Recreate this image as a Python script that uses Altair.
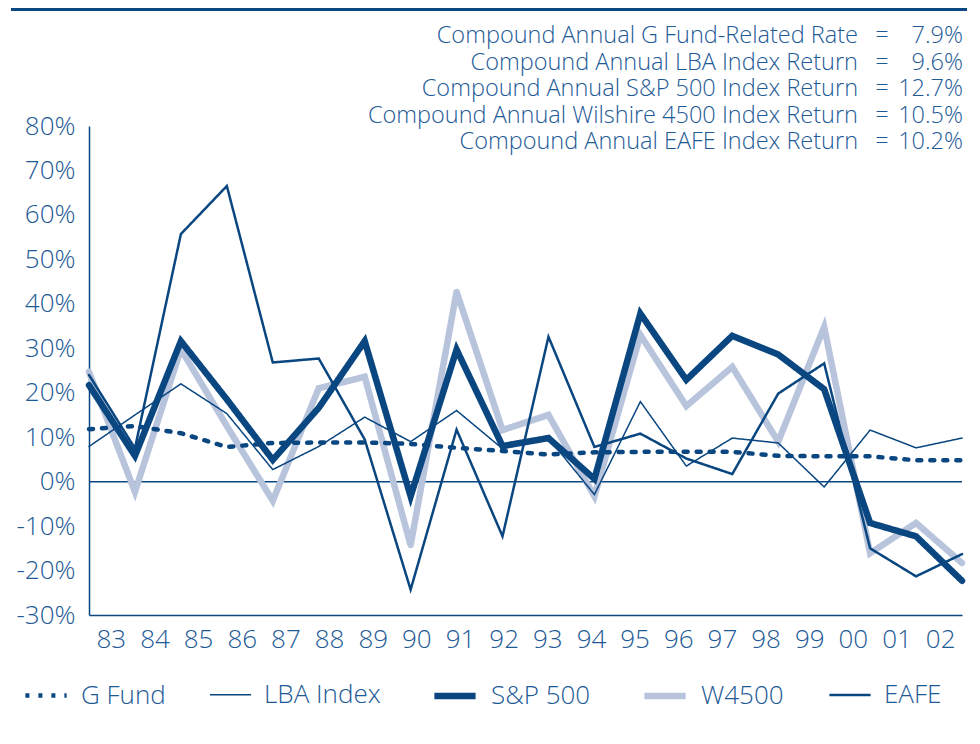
import altair as alt
import pandas as pd

YEARS = ["83", "84", "85", "86", "87", "88", "89", "90", "91", "92",
         "93", "94", "95", "96", "97", "98", "99", "00", "01", "02"]

G_FUND = [11.8, 12.5, 10.9, 7.8, 8.7, 8.8, 8.8, 8.5, 7.6, 6.9,
          6.1, 6.6, 6.7, 6.7, 6.7, 5.8, 5.7, 5.7, 4.8, 4.8]
LBA = [7.9, 15.0, 22.0, 15.3, 2.7, 7.9, 14.5, 9.0, 16.0, 7.4,
       9.8, -2.9, 18.0, 3.5, 9.8, 8.7, -1.2, 11.6, 7.6, 9.8]
SP500 = [21.7, 5.8, 31.6, 18.5, 4.9, 16.6, 31.6, -3.3, 29.7, 8.0,
         9.8, 0.6, 37.8, 22.9, 32.8, 28.6, 20.8, -9.3, -12.3, -22.3]
W4500 = [24.7, -2.3, 29.8, 12.5, -4.3, 21.0, 23.6, -14.3, 42.7, 11.6,
         15.0, -3.3, 33.0, 17.0, 25.8, 9.0, 34.8, -16.1, -9.3, -18.3]
EAFE = [24.0, 7.5, 55.7, 66.5, 26.8, 27.7, 9.5, -24.3, 11.7, -12.3,
        32.6, 7.8, 10.8, 5.2, 1.7, 19.8, 26.6, -15.0, -21.3, -16.3]

SERIES = ["G Fund", "LBA Index", "S&P 500", "W4500", "EAFE"]
DRAW_ORDER = ["W4500", "EAFE", "LBA Index", "G Fund", "S&P 500"]

ANN_DESC = [
    "Compound Annual G Fund-Related Rate",
    "Compound Annual LBA Index Return",
    "Compound Annual S&P 500 Index Return",
    "Compound Annual Wilshire 4500 Index Return",
    "Compound Annual EAFE Index Return",
]
ANN_VALS = ["7.9%", "9.6%", "12.7%", "10.5%", "10.2%"]

NAVY = "#0a4680"
TEXT = "#1d5a96"
LIGHT = "#b8c3dc"
FONT = "Open Sans"

values = {"G Fund": G_FUND, "LBA Index": LBA, "S&P 500": SP500,
          "W4500": W4500, "EAFE": EAFE}
rows = []
for s in SERIES:
    for i, v in enumerate(values[s]):
        rows.append({"series": s, "idx": i, "year": YEARS[i], "value": v})
df = pd.DataFrame(rows)

W, H = 873, 489

yscale = alt.Scale(domain=[-30, 80], nice=False, zero=False)

lines = alt.Chart(df).mark_line(strokeCap="round", strokeJoin="miter").encode(
    x=alt.X("idx:Q", scale=alt.Scale(domain=[0, 19], nice=False, zero=False), axis=None),
    y=alt.Y("value:Q", scale=yscale, axis=alt.Axis(
        values=list(range(-30, 90, 10)), labelExpr="datum.value + '%'",
        ticks=False, grid=False, domain=True, domainColor=NAVY, domainWidth=1.5,
        labelFont=FONT, labelFontWeight=300, labelFontSize=26, labelColor=TEXT,
        labelPadding=14, title=None)),
    color=alt.Color("series:N", scale=alt.Scale(
        domain=SERIES, range=[NAVY, NAVY, NAVY, LIGHT, NAVY]),
        legend=alt.Legend(
            title=None, orient="none", legendX=-66, legendY=546, direction="horizontal",
            symbolType="stroke", symbolSize=1700, labelFont=FONT, labelFontWeight=300,
            labelFontSize=26, labelColor=TEXT, columnPadding=40, labelOffset=12)),
    strokeWidth=alt.StrokeWidth("series:N", scale=alt.Scale(
        type="ordinal", domain=SERIES, range=[4.5, 1.5, 6.5, 6.5, 2.5]), legend=None),
    strokeDash=alt.StrokeDash("series:N", scale=alt.Scale(
        domain=SERIES, range=[[4, 9], [1, 0], [1, 0], [1, 0], [1, 0]]), legend=None),
    detail="series:N",
    order="idx:Q",
)

layers = []
for s in DRAW_ORDER:
    layers.append(lines.transform_filter(alt.datum.series == s))

zero_df = pd.DataFrame({"v": [0]})
zero = alt.Chart(zero_df).mark_rule(color=NAVY, strokeWidth=1.5).encode(
    y=alt.Y("v:Q", scale=yscale))

xlab = alt.Chart(pd.DataFrame({"year": YEARS})).mark_point(opacity=0).encode(
    x=alt.X("year:O", sort=YEARS, scale=alt.Scale(type="point", padding=0.5),
            axis=alt.Axis(title=None, ticks=False, domain=True, domainColor=NAVY,
                          domainWidth=1.5, labelAngle=0, labelFont=FONT,
                          labelFontWeight=300, labelFontSize=26, labelColor=TEXT,
                          labelPadding=11, grid=False)),
    y=alt.value(0),
)

topbar = alt.Chart(zero_df).mark_rule(color=NAVY, strokeWidth=5).encode(
    x=alt.value(-78), x2=alt.value(878), y=alt.value(-117.5))

ann_layers = []
ANN_FS = 23.5
for k, (d, v) in enumerate(zip(ANN_DESC, ANN_VALS)):
    yb = -82.7 + 26.5 * k
    ann_layers.append(alt.Chart(zero_df).mark_text(
        align="right", baseline="alphabetic", font=FONT, fontWeight=300,
        fontSize=ANN_FS, color=TEXT).encode(
        x=alt.value(769), y=alt.value(yb), text=alt.value(d)))
    ann_layers.append(alt.Chart(zero_df).mark_text(
        align="center", baseline="alphabetic", font=FONT, fontWeight=300,
        fontSize=ANN_FS, color=TEXT).encode(
        x=alt.value(793), y=alt.value(yb), text=alt.value("=")))
    ann_layers.append(alt.Chart(zero_df).mark_text(
        align="right", baseline="alphabetic", font=FONT, fontWeight=300,
        fontSize=ANN_FS, color=TEXT).encode(
        x=alt.value(874), y=alt.value(yb), text=alt.value(v)))

chart = alt.layer(
    xlab, zero, *layers, topbar, *ann_layers
).resolve_scale(x="independent").properties(
    width=W, height=H,
    background="white",
    autosize=alt.AutoSizeParams(type="none"),
    padding={"left": 81, "top": 118, "right": 10, "bottom": 121},
).configure_view(stroke=None)

chart.save("out.html", embed_options={"renderer": "svg", "actions": False})
